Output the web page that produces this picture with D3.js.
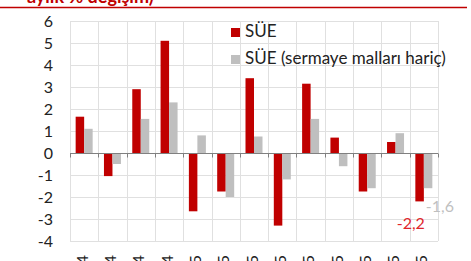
<!DOCTYPE html>
<html>
<head>
<meta charset="utf-8">
<script src="https://cdn.jsdelivr.net/npm/d3@7"></script>
<style>
  body { margin: 0; background: #fff; }
  svg { display: block; font-family: Lato, "Open Sans", sans-serif; }
</style>
</head>
<body>
<svg id="chart" width="471" height="261"></svg>
<script>
// months shown on the x axis
var categories = ["Eyl.14", "Eki.14", "Kas.14", "Ara.14", "Oca.15", "Şub.15", "Mar.15",
                  "Nis.15", "May.15", "Haz.15", "Tem.15", "Ağu.15", "Eyl.15"];
// SÜE, monthly % change
var sue = [1.65, -1.05, 2.9, 5.1, -2.65, -1.75, 3.4, -3.3, 3.15, 0.7, -1.75, 0.5, -2.2];
// SÜE excluding capital goods
var sueExcl = [1.1, -0.5, 1.55, 2.3, 0.8, -2.0, 0.75, -1.2, 1.55, -0.6, -1.6, 0.9, -1.6];
var yTicks = [-4, -3, -2, -1, 0, 1, 2, 3, 4, 5, 6];
var seriesNames = ["SÜE", "SÜE (sermaye malları hariç)"];
var title = "aylık % değişim)";

var red = "#c00000", grey = "#bfbfbf";

var svg = d3.select("#chart");

var x = d3.scaleBand().domain(categories).range([70, 438]).padding(0);
var xs = d3.scaleBand().domain([0, 1]).range([0, x.bandwidth()]).paddingOuter(0.665).paddingInner(0);
var y = d3.scaleLinear().domain([-4, 6]).range([241, 21]);

function fmt(v) { return d3.format(".1f")(v).replace(".", ",").replace("−", "-"); }

// title remnant + red rule
svg.append("text")
  .attr("x", 27).attr("y", 3)
  .attr("fill", red).attr("font-weight", "bold").attr("font-size", 18)
  .text(title);
svg.append("line")
  .attr("x1", 0).attr("x2", 467).attr("y1", 7.5).attr("y2", 7.5)
  .attr("stroke", red).attr("stroke-width", 1.5);

// grid
var grid = svg.append("g").attr("stroke", "#e0e0e0").attr("stroke-width", 1);
grid.selectAll(".h").data(yTicks).enter().append("line")
  .attr("x1", 70).attr("x2", 438)
  .attr("y1", function (d) { return Math.round(y(d)) + 0.5; })
  .attr("y2", function (d) { return Math.round(y(d)) + 0.5; });
var bounds = categories.map(function (c) { return x(c); }).concat([438]);
grid.selectAll(".v").data(bounds).enter().append("line")
  .attr("y1", y(6)).attr("y2", y(-4))
  .attr("x1", function (d) { return Math.round(d) + 0.5; })
  .attr("x2", function (d) { return Math.round(d) + 0.5; });

// y labels
svg.append("g").selectAll("text").data(yTicks).enter().append("text")
  .attr("x", 53).attr("y", function (d) { return y(d); })
  .attr("dy", "0.36em").attr("text-anchor", "end")
  .attr("font-size", 16).attr("fill", "#222")
  .text(function (d) { return d; });

// bars
var groups = svg.append("g").selectAll("g").data(categories).enter().append("g")
  .attr("transform", function (d) { return "translate(" + x(d) + ",0)"; });
[sue, sueExcl].forEach(function (vals, s) {
  groups.append("rect")
    .attr("x", xs(s))
    .attr("width", xs.bandwidth())
    .attr("y", function (d, i) { return y(Math.max(0, vals[i])); })
    .attr("height", function (d, i) { return Math.abs(y(vals[i]) - y(0)); })
    .attr("fill", s === 0 ? red : grey);
});

// zero axis with ticks
var z = Math.round(y(0)) + 0.5;
svg.append("line").attr("x1", 70).attr("x2", 438).attr("y1", z).attr("y2", z)
  .attr("stroke", "#808080");
svg.append("g").selectAll("line").data(bounds).enter().append("line")
  .attr("x1", function (d) { return Math.round(d) + 0.5; })
  .attr("x2", function (d) { return Math.round(d) + 0.5; })
  .attr("y1", z).attr("y2", z + 4).attr("stroke", "#808080");

// x labels (rotated, cut off by the frame)
svg.append("g").selectAll("text").data(categories).enter().append("text")
  .attr("transform", function (d) { return "translate(" + (x(d) + x.bandwidth() / 2 - 2) + ",255) rotate(-90)"; })
  .attr("dy", "0.35em").attr("text-anchor", "end")
  .attr("font-size", 16).attr("fill", "#222")
  .text(function (d) { return d; });

// legend
var legend = svg.append("g");
seriesNames.forEach(function (n, i) {
  legend.append("rect").attr("x", 231).attr("y", 28 + i * 27).attr("width", 9).attr("height", 9)
    .attr("fill", i === 0 ? red : grey);
  legend.append("text").attr("x", 245).attr("y", 37 + i * 27)
    .attr("font-size", 17).attr("fill", "#222").text(n);
});

// end labels for the last month
var last = categories.length - 1;
svg.append("text")
  .attr("x", x(categories[last]) + xs(0) + xs.bandwidth() + 1)
  .attr("y", y(sue[last]) + 28)
  .attr("text-anchor", "end").attr("font-size", 16).attr("fill", "#e0262c")
  .text(fmt(sue[last]));
svg.append("text")
  .attr("x", x(categories[last]) + xs(1) + 2)
  .attr("y", y(sueExcl[last]) + 24)
  .attr("font-size", 16).attr("fill", grey)
  .text(fmt(sueExcl[last]));
</script>
</body>
</html>
